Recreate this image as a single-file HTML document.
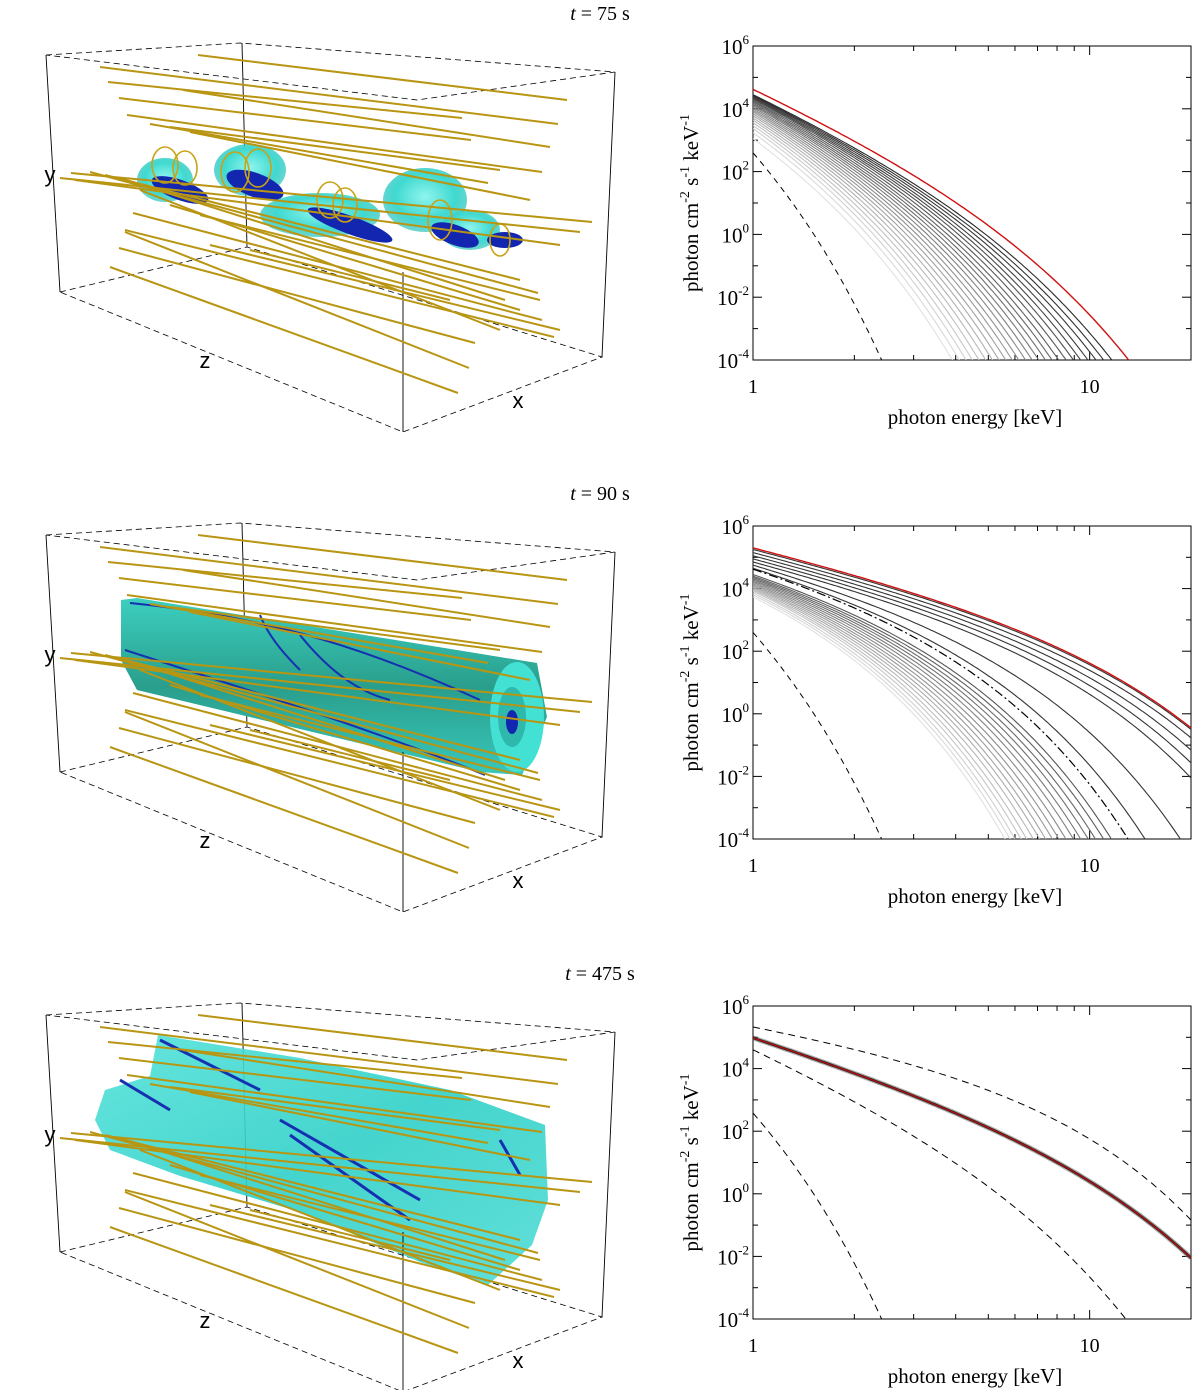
<!DOCTYPE html>
<html><head><meta charset="utf-8"><style>
html,body{margin:0;padding:0;background:#fff;}
svg{display:block;}
text{font-family:"Liberation Serif",serif;}
</style></head>
<body>
<svg id="fig" width="1200" height="1390" viewBox="0 0 1200 1390" xmlns="http://www.w3.org/2000/svg">
<defs>
<radialGradient id="cy" cx="50%" cy="45%" r="60%"><stop offset="0" stop-color="#8ff5ee"/><stop offset="0.6" stop-color="#3fd9d0"/><stop offset="1" stop-color="#2bbfb8" stop-opacity="0.6"/></radialGradient>
<linearGradient id="tube" x1="0" y1="0" x2="0" y2="1"><stop offset="0" stop-color="#3ccfc0"/><stop offset="0.5" stop-color="#2a9e8c"/><stop offset="1" stop-color="#38c8bc"/></linearGradient>
<linearGradient id="cloud" x1="0" y1="0" x2="1" y2="1"><stop offset="0" stop-color="#55e3da"/><stop offset="0.5" stop-color="#30d0c8"/><stop offset="1" stop-color="#4fdcd4"/></linearGradient>
<clipPath id="c0"><rect x="753" y="46" width="438" height="314"/></clipPath>
<clipPath id="c1"><rect x="753" y="526" width="438" height="313"/></clipPath>
<clipPath id="c2"><rect x="753" y="1006" width="438" height="313"/></clipPath>
</defs>
<text x="600" y="20" font-size="20" text-anchor="middle"><tspan font-style="italic">t</tspan> = 75 s</text>
<text x="600" y="500" font-size="20" text-anchor="middle"><tspan font-style="italic">t</tspan> = 90 s</text>
<text x="600" y="980" font-size="20" text-anchor="middle"><tspan font-style="italic">t</tspan> = 475 s</text>
<g id="left"></g>
<g id="right"></g>
</svg>
<script>
// ---------- spectra data ----------
// row 1 (t=75 s)
const r1GrayStartLog=[4.45,4.42,4.39,4.36,4.33,4.30,4.26,4.22,4.18,4.14,4.10,4.05,4.00,3.95,3.90,3.84,3.78,3.71,3.64,3.56,3.47,3.37,3.24,3.05];
const r1GrayCutE=[11.64,11.0,10.44,9.88,9.40,8.95,8.51,8.09,7.73,7.39,7.06,6.75,6.45,6.16,5.89,5.63,5.38,5.14,4.91,4.69,4.48,4.29,4.10,3.91];
const r1RedStart=4.62, r1RedCutE=13.06;
const r1DashStart=2.6, r1DashCutE=2.41;
const r1Gamma=4.5;
// row 2 (t=90 s)
const r2BlackStartLog=[5.25,5.15,5.05,4.95,4.85,4.75,4.65];
const r2BlackEndE=[20,20,20,20,20,18.6,14.6];
const r2BlackEndLog=[-0.5,-0.77,-1.16,-1.57,-2.05,-4,-4];
const r2GrayStartLog=[4.45,4.40,4.36,4.32,4.28,4.24,4.20,4.16,4.12,4.08,4.04,4.00,3.96,3.92,3.86,3.80,3.73];
const r2GrayCutE=[11.6,11.0,10.4,9.9,9.4,8.95,8.5,8.1,7.75,7.4,7.1,6.8,6.5,6.25,6.0,5.8,5.6];
const r2Red=[5.30,20,-0.45];
const r2DashDot=[4.62,13.0,-4];
const r2Dash=[2.6,2.41,-4];
const r2Gamma=2.5;
// row 3 (t=475 s)
const r3Red=[4.98,20,-2.05,3.27];
const r3DashUpper=[5.33,20,-0.84,1.71];
const r3DashLower=[4.6,12.8,-4,4.5];
const r3DashBottom=[2.58,2.41,-4,4.5];
// axes
const yTickExp=[6,4,2,0,-2,-4];
const xTickVals=[1,10];
const xTickLabels=["1","10"];

const NS="http://www.w3.org/2000/svg";
function mk(tag,attrs,parent){const e=document.createElementNS(NS,tag);for(const k in attrs)e.setAttribute(k,attrs[k]);parent.appendChild(e);return e;}
const right=document.getElementById('right');
const left=document.getElementById('left');
const X0=753,X1=1191,LE0=0,LE1=Math.log10(20);
function xs(E){return X0+(Math.log10(E)-LE0)/(LE1-LE0)*(X1-X0);}
const panels=[{t:46,b:360},{t:526,b:839},{t:1006,b:1319}];
function ys(p,l){return p.b-(l+4)/10*(p.b-p.t);}
function kTfrom(L,Ee,Ve,g){return (Ee-1)/((L-Ve-g*Math.log10(Ee))*Math.LN10);}
function spec(p,i,L,Ee,Ve,g,style,name){
  const kT=kTfrom(L,Ee,Ve,g);let d='';
  for(let k=0;k<=160;k++){const E=Math.pow(10,LE1*k/160);let l=L-g*Math.log10(E)-(E-1)/(kT*Math.LN10);if(l<-4.3){l=-4.3;}d+=(k?'L':'M')+xs(E).toFixed(1)+' '+ys(p,l).toFixed(1);if(l<=-4.3)break;}
  const pa=mk('path',Object.assign({d:d,fill:'none','clip-path':'url(#c'+i+')'},style),right);
  
  
  return pa;
}
function grayCol(f){const v=Math.round(40+f*185);return 'rgb('+v+','+v+','+v+')';}

panels.forEach((p,i)=>{
  const box=mk('rect',{x:X0,y:p.t,width:X1-X0,height:p.b-p.t,fill:'none',stroke:'#000','stroke-width':1},right);
  
  
  for(let e=-4;e<=6;e++){const y=ys(p,e);const len=(e%2===0)?9:5;
    mk('line',{x1:X0,y1:y,x2:X0+len,y2:y,stroke:'#000'},right);mk('line',{x1:X1,y1:y,x2:X1-len,y2:y,stroke:'#000'},right);}
  yTickExp.forEach(e=>{const y=ys(p,e);
    const t=mk('text',{x:749,y:y+8,'font-size':21,'text-anchor':'end'},right);
    
    
    t.innerHTML='10<tspan dy="-10" font-size="13">'+e+'</tspan>';});
  for(let d=1;d<=20;d+=(d<10?1:10)){const x=xs(d);const len=(d===1||d===10)?9:5;
    mk('line',{x1:x,y1:p.b,x2:x,y2:p.b-len,stroke:'#000'},right);mk('line',{x1:x,y1:p.t,x2:x,y2:p.t+len,stroke:'#000'},right);}
  xTickVals.forEach((v,j)=>{const t=mk('text',{x:xs(v),y:p.b+33,'font-size':20,'text-anchor':'middle'},right);
    
    
    t.textContent=xTickLabels[j];});
  const xt=mk('text',{x:975,y:p.b+64,'font-size':21,'text-anchor':'middle'},right);
  
  
  xt.textContent='photon energy [keV]';
  const cy=(p.t+p.b)/2;
  const yt=mk('text',{x:0,y:0,'font-size':21,'text-anchor':'middle',transform:'translate(698,'+cy+') rotate(-90)'},right);
  
  
  yt.innerHTML='photon cm<tspan dy="-9" font-size="14">-2</tspan><tspan dy="9"> s</tspan><tspan dy="-9" font-size="14">-1</tspan><tspan dy="9"> keV</tspan><tspan dy="-9" font-size="14">-1</tspan>';
});

{const p=panels[0];const n=r1GrayStartLog.length;
 for(let j=n-1;j>=0;j--)spec(p,0,r1GrayStartLog[j],r1GrayCutE[j],-4,r1Gamma,{stroke:grayCol(j/(n-1)),'stroke-width':1.1},'spectrum-gray-'+j);
 spec(p,0,r1DashStart,r1DashCutE,-4,r1Gamma,{stroke:'#000','stroke-width':1,'stroke-dasharray':'6,5'},'spectrum-dashed');
 spec(p,0,r1RedStart,r1RedCutE,-4,r1Gamma,{stroke:'#d01010','stroke-width':1.4},'spectrum-red');}
{const p=panels[1];const n=r2GrayStartLog.length;
 for(let j=n-1;j>=0;j--)spec(p,1,r2GrayStartLog[j],r2GrayCutE[j],-4,r2Gamma,{stroke:grayCol(0.25+0.75*j/(n-1)),'stroke-width':1.1},'spectrum-gray-'+j);
 for(let j=0;j<r2BlackStartLog.length;j++)spec(p,1,r2BlackStartLog[j],r2BlackEndE[j],r2BlackEndLog[j],r2Gamma,{stroke:'#333','stroke-width':1.1},'spectrum-black-'+j);
 spec(p,1,r2DashDot[0],r2DashDot[1],r2DashDot[2],r2Gamma,{stroke:'#000','stroke-width':1.2,'stroke-dasharray':'9,3,2,3'},'spectrum-dashdot');
 spec(p,1,r2Dash[0],r2Dash[1],r2Dash[2],4.5,{stroke:'#000','stroke-width':1,'stroke-dasharray':'6,5'},'spectrum-dashed');
 spec(p,1,r2Red[0],r2Red[1],r2Red[2],r2Gamma,{stroke:'#d01010','stroke-width':1.4},'spectrum-red');}
{const p=panels[2];
 [r3DashUpper,r3DashLower,r3DashBottom].forEach((c,j)=>spec(p,2,c[0],c[1],c[2],c[3],{stroke:'#000','stroke-width':1,'stroke-dasharray':'7,5'},'spectrum-dashed-'+j));
 spec(p,2,r3Red[0],r3Red[1],r3Red[2],r3Red[3],{stroke:'#777','stroke-width':5,'stroke-opacity':0.6},'spectrum-gray-bundle');
 spec(p,2,r3Red[0],r3Red[1],r3Red[2],r3Red[3],{stroke:'#222','stroke-width':2.6},'spectrum-black-bundle');
 spec(p,2,r3Red[0],r3Red[1],r3Red[2],r3Red[3],{stroke:'#b01010','stroke-width':1.4},'spectrum-red');}

// ---------- 3D panels ----------
const fieldLines=[[198,55,567,100],[100,67,558,124],[108,82,462,118],[183,90,550,147],[119,98,471,140],[127,115,542,172],[150,124,488,183],[170,127,500,170],[190,132,530,200],
[71,173,592,222],[60,178,580,232],[75,180,560,245],[90,172,538,293],[105,175,520,280],[120,178,505,300],[133,213,542,320],[125,230,554,337],[119,248,475,343],[110,267,458,393],[125,232,469,368],[200,215,540,300],[210,245,560,330],[170,205,520,310],[140,190,500,330],[250,250,450,300]];
function panel3d(k,oy){
  const g=mk('g',{transform:'translate(0,'+oy+')'},left);
  
  
  const dash={fill:'none',stroke:'#000','stroke-width':0.8,'stroke-dasharray':'6,4'};
  mk('polyline',Object.assign({points:'46,55 240,43 615,72 417,100 46,55'},dash),g);
  mk('polyline',Object.assign({points:'60,292 247,247 602,357 403,432 60,292'},dash),g);
  const sol={stroke:'#000','stroke-width':0.9};
  mk('line',Object.assign({x1:46,y1:55,x2:60,y2:292},sol),g);
  mk('line',Object.assign({x1:615,y1:72,x2:602,y2:357},sol),g);
  mk('line',Object.assign({x1:242,y1:43,x2:247,y2:247},sol),g);
  if(k===0){
    [[165,180,28,22],[250,170,36,26],[320,215,60,22],[425,200,42,32],[470,230,30,20]].forEach(e=>mk('ellipse',{cx:e[0],cy:e[1],rx:e[2],ry:e[3],fill:'url(#cy)'},g));
    [[180,190,30,10,20],[255,185,30,12,20],[350,225,45,9,20],[455,235,25,10,20],[505,240,18,8,0]].forEach(e=>mk('ellipse',{cx:e[0],cy:e[1],rx:e[2],ry:e[3],fill:'#1226b0',transform:'rotate('+e[4]+' '+e[0]+' '+e[1]+')'},g));
    [[165,165,13,18],[185,168,12,17],[235,172,14,20],[258,168,13,19],[330,200,13,18],[345,205,12,17],[440,220,12,20],[500,240,10,16]].forEach(e=>mk('ellipse',{cx:e[0],cy:e[1],rx:e[2],ry:e[3],fill:'none',stroke:'#c9a315','stroke-width':1.6},g));
  } else if(k===1){
    const t=mk('g',{transform:'translate(0,-480)'},g);
    mk('path',{d:'M121,600 L137,598 L537,663 L547,717 L522,775 L480,772 L137,690 L121,660 Z',fill:'url(#tube)'},t);
    mk('ellipse',{cx:517,cy:717,rx:27,ry:55,fill:'#43e0d4'},t);
    mk('ellipse',{cx:512,cy:717,rx:14,ry:30,fill:'#2fb8ac'},t);
    mk('ellipse',{cx:512,cy:722,rx:6,ry:12,fill:'#1226b0'},t);
    ['M130,603 C250,615 350,640 480,700','M125,650 C250,690 400,740 485,775','M300,635 C320,660 350,690 390,700','M260,615 C270,640 290,660 300,670'].forEach(d=>mk('path',{d:d,fill:'none',stroke:'#1530b0','stroke-width':2},t));
  } else {
    mk('path',{d:'M158,1035 L300,1058 L450,1090 L545,1125 L548,1200 L532,1245 L488,1285 L420,1262 L300,1212 L180,1176 L110,1150 L95,1120 L105,1090 L150,1076 Z',transform:'translate(0,-960)',fill:'url(#cloud)','fill-opacity':0.9},g);
    ['M160,80 L260,130','M280,160 L420,240','M290,175 L410,260','M120,120 L170,150','M500,180 L520,215'].forEach(d=>mk('path',{d:d,fill:'none',stroke:'#1530b0','stroke-width':3},g));
  }
  mk('line',Object.assign({x1:403,y1:272,x2:403,y2:432},sol),g);
  fieldLines.forEach((l,j)=>{const ln=mk('line',{x1:l[0],y1:l[1],x2:l[2],y2:l[3],stroke:'#b89512','stroke-width':2},g);
    
    });
  [['y',50,182],['z',205,368],['x',518,408]].forEach(a=>{const t=mk('text',{x:a[1],y:a[2],'font-size':22,'text-anchor':'middle',style:'font-family:"Liberation Sans",sans-serif'},g);
    
    
    t.textContent=a[0];});
}
panel3d(0,0);panel3d(1,480);panel3d(2,960);
</script>
</body></html>
